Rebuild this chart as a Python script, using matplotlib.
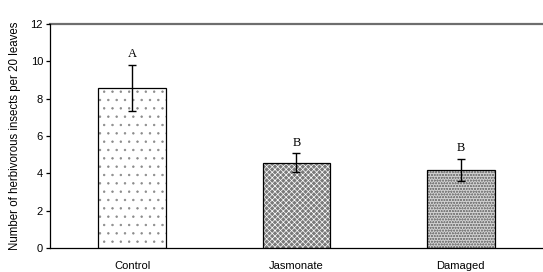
import matplotlib.pyplot as plt

# data
treatments = ["Control", "Jasmonate", "Damaged"]
means = [8.57, 4.57, 4.18]
errors = [1.25, 0.50, 0.58]
letters = ["A", "B", "B"]

fills = ["white", "#7a7a7a", "#d0d0d0"]
hatches = ["..", "xxxxxx", "oooooo"]
hatch_cols = ["#8a8a8a", "white", "#808080"]

plt.rcParams["hatch.linewidth"] = 0.5

fig = plt.figure(figsize=(5.43, 2.72), dpi=100)
ax = fig.add_axes([0.092, 0.088, 0.908, 0.824])

x = range(len(treatments))
for i in x:
    # fill + hatch first, outline on top
    ax.bar(i, means[i], width=0.41, color=fills[i], hatch=hatches[i],
           edgecolor=hatch_cols[i], linewidth=0, zorder=2)
ax.bar(x, means, width=0.41, color="none", edgecolor="black", linewidth=0.9, zorder=3)
ax.errorbar(x, means, yerr=errors, fmt="none", ecolor="black",
            elinewidth=1, capsize=3, capthick=1, zorder=4)

for i in x:
    ax.text(i, means[i] + errors[i] + 0.25, letters[i], ha="center", va="bottom",
            fontsize=9, family="Liberation Serif")

ax.axhline(12, color="#6e6e6e", linewidth=1.6, zorder=1, clip_on=False)
ax.set_xlim(-0.5, 2.5)
ax.set_ylim(0, 12)
ax.set_yticks(range(0, 13, 2))
ax.set_xticks(list(x))
ax.set_xticklabels(treatments)
ax.tick_params(axis="x", length=0, pad=9, labelsize=8)
ax.tick_params(axis="y", length=3, width=0.9, pad=2, labelsize=8)
for lab in ax.get_xticklabels() + ax.get_yticklabels():
    lab.set_family("Liberation Sans")
ax.spines["top"].set_visible(False)
ax.spines["right"].set_visible(False)
ax.spines["left"].set_linewidth(0.9)
ax.spines["bottom"].set_linewidth(0.9)
ax.set_ylabel("Number of herbivorous insects per 20 leaves", fontsize=8.3,
              family="Liberation Sans", labelpad=7)

fig.savefig("out.png", dpi=100)
